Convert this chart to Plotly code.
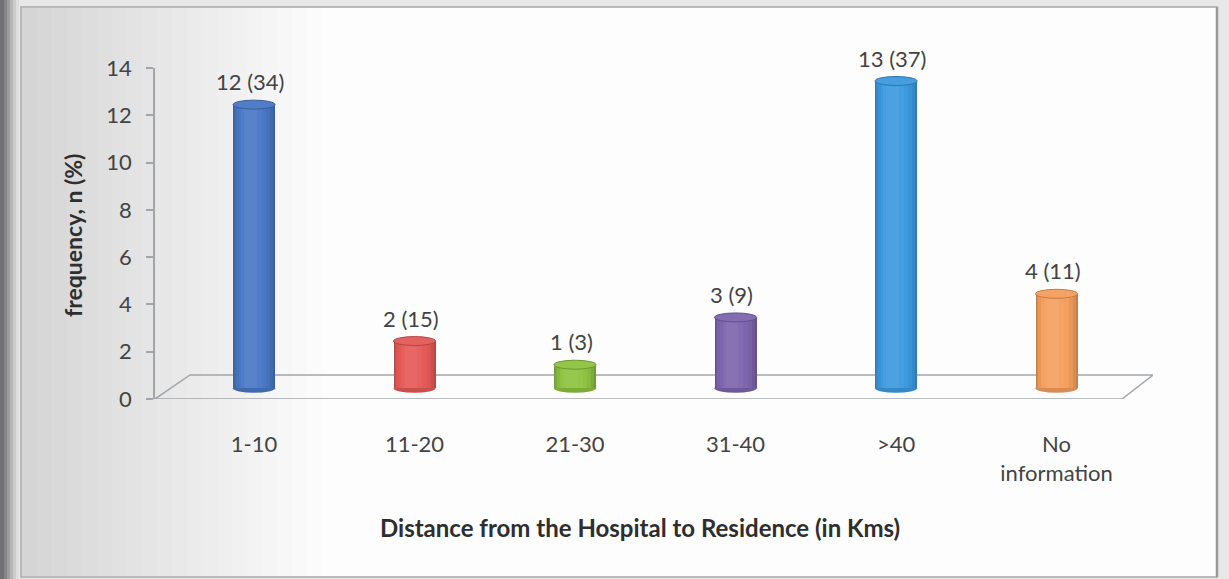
import plotly.graph_objects as go

# ---- data ----
categories = ["1-10", "11-20", "21-30", "31-40", ">40", "No<br>information"]
counts = [12, 2, 1, 3, 13, 4]
percents = [34, 15, 3, 9, 37, 11]
bar_colors = ["#4a78c6", "#e45a58", "#8dc340", "#7e66ae", "#3c9ade", "#f59f5e"]
y_ticks = [0, 2, 4, 6, 8, 10, 12, 14]

# ---- page geometry ----
W, H = 1229, 579
ML, MR, MT, MB = 155, 76, 68, 180
PW, PH = W - ML - MR, H - MT - MB
BOTTOM = H - MB

FONT = "Lato"
TXT = "#434343"

X_RANGE = [-0.617, 5.601]
DEPTH_Y = 1.015        # floor depth in value units
MID_DEPTH = 0.45       # cylinders stand half way into the floor
BAR_W = 0.262


def px_x(p):
    return (p - ML) / PW


def px_y(p):
    return (BOTTOM - p) / PH


def mix(hex_color, other, t):
    h = hex_color.lstrip("#")
    r, g, b = (int(h[i:i + 2], 16) for i in (0, 2, 4))
    o = other.lstrip("#")
    r2, g2, b2 = (int(o[i:i + 2], 16) for i in (0, 2, 4))
    return "#%02x%02x%02x" % (round(r + (r2 - r) * t), round(g + (g2 - g) * t), round(b + (b2 - b) * t))


xs = list(range(len(categories)))
fig = go.Figure()

# cylinder bodies: overlaid bars of shrinking width for a rounded look
layers = [
    (BAR_W, 0.0, "#000000", 0.20),
    (BAR_W * 0.92, -0.002, "#000000", 0.12),
    (BAR_W * 0.82, -0.005, "#000000", 0.05),
    (BAR_W * 0.66, -0.010, "#ffffff", 0.0),
    (BAR_W * 0.48, -0.016, "#ffffff", 0.04),
    (BAR_W * 0.30, -0.022, "#ffffff", 0.08),
]
for w, shift, tone, t in layers:
    fig.add_trace(go.Bar(
        x=xs, y=counts, base=0,
        width=w, offset=-w / 2 + shift,
        marker=dict(color=[mix(c, tone, t) for c in bar_colors], line=dict(width=0)),
        yaxis="y2", hoverinfo="skip", showlegend=False,
    ))

shapes = []

# page surround and chart frame
shapes.append(dict(type="rect", xref="paper", yref="paper", x0=px_x(0), x1=px_x(W), y0=px_y(H), y1=px_y(0),
                   fillcolor="#e8e8e9", line=dict(width=0), layer="below"))
shapes.append(dict(type="rect", xref="paper", yref="paper", x0=px_x(21), x1=px_x(1217), y0=px_y(577), y1=px_y(7),
                   fillcolor="#fdfdfd", line=dict(color="#a6a6a8", width=1.5), layer="below"))
# soft grey shading toward the left side
for k in range(20):
    x1 = 22 + 15 * (k + 1)
    shapes.append(dict(type="rect", xref="paper", yref="paper", x0=px_x(22), x1=px_x(x1),
                       y0=px_y(576), y1=px_y(8), fillcolor="rgba(150,150,155,0.016)",
                       line=dict(width=0), layer="below"))
# dark left strip
for k, a in enumerate([0.5, 0.38, 0.28, 0.2, 0.13, 0.07]):
    shapes.append(dict(type="rect", xref="paper", yref="paper", x0=px_x(0), x1=px_x(4 + 3 * k),
                       y0=px_y(H), y1=px_y(0), fillcolor=f"rgba(95,95,102,{a})",
                       line=dict(width=0), layer="below"))
shapes.append(dict(type="line", xref="paper", yref="paper", x0=px_x(1217), x1=px_x(1217), y0=px_y(577), y1=px_y(7),
                   line=dict(color="#9a9a9e", width=2.5), layer="below"))

# floor of the 3-D plot area
floor_front_right = 5.408
floor_back_left = -0.399
shapes.append(dict(type="path", xref="x", yref="y",
                   path=f"M {X_RANGE[0]},0 L {floor_front_right},0 L {X_RANGE[1]},{DEPTH_Y} "
                        f"L {floor_back_left},{DEPTH_Y} Z",
                   line=dict(color="#a2a6aa", width=1.5), fillcolor="rgba(0,0,0,0)", layer="below"))

# rounded bottoms and elliptical tops of the cylinders
cap_h = 0.19
for x, v, c in zip(xs, counts, bar_colors):
    shapes.append(dict(type="circle", xref="x", yref="y2",
                       x0=x - BAR_W / 2, x1=x + BAR_W / 2, y0=-cap_h, y1=cap_h,
                       fillcolor=mix(c, "#000000", 0.12), line=dict(width=0), layer="below"))
    shapes.append(dict(type="circle", xref="x", yref="y2",
                       x0=x - BAR_W / 2, x1=x + BAR_W / 2, y0=v - cap_h, y1=v + cap_h,
                       fillcolor=mix(c, "#ffffff", 0.04), line=dict(color=mix(c, "#000000", 0.22), width=1),
                       layer="above"))

annotations = []
for x, n, p in zip(xs, counts, percents):
    annotations.append(dict(x=x, y=n, xref="x", yref="y2", text=f"{n} ({p})", showarrow=False,
                            yanchor="middle", yshift=23, xshift=-4,
                            font=dict(family=FONT, size=22, color=TXT)))

annotations.append(dict(x=px_x(640), y=px_y(527), xref="paper", yref="paper",
                        xanchor="center", yanchor="middle",
                        text="<b>Distance from the Hospital to Residence (in Kms)</b>", showarrow=False,
                        font=dict(family=FONT, size=24, color="#2e2e2e")))
annotations.append(dict(x=px_x(73), y=px_y(236), xref="paper", yref="paper",
                        xanchor="center", yanchor="middle",
                        text="<b>frequency, n (%)</b>", showarrow=False, textangle=-90,
                        font=dict(family=FONT, size=23, color="#2e2e2e")))

fig.update_layout(
    width=W, height=H, autosize=False,
    margin=dict(l=ML, r=MR, t=MT, b=MB, pad=0),
    paper_bgcolor="#ffffff", plot_bgcolor="rgba(0,0,0,0)",
    barmode="overlay", bargap=0,
    shapes=shapes, annotations=annotations,
    xaxis=dict(range=X_RANGE, tickmode="array", tickvals=xs, ticktext=categories,
               showgrid=False, zeroline=False, showline=False, ticks="",
               ticklabelstandoff=30,
               tickfont=dict(family=FONT, size=22, color=TXT)),
    yaxis=dict(range=[0, 14], tickmode="array", tickvals=y_ticks,
               showgrid=False, zeroline=False, showline=True, linecolor="#a2a6aa", linewidth=1.5,
               ticks="outside", ticklen=7, tickcolor="#a2a6aa", tickwidth=1.5,
               ticklabelstandoff=10,
               tickfont=dict(family=FONT, size=22, color=TXT)),
    yaxis2=dict(range=[-MID_DEPTH, 14 - MID_DEPTH], overlaying="y", visible=False),
)

fig.write_html("out.html")
